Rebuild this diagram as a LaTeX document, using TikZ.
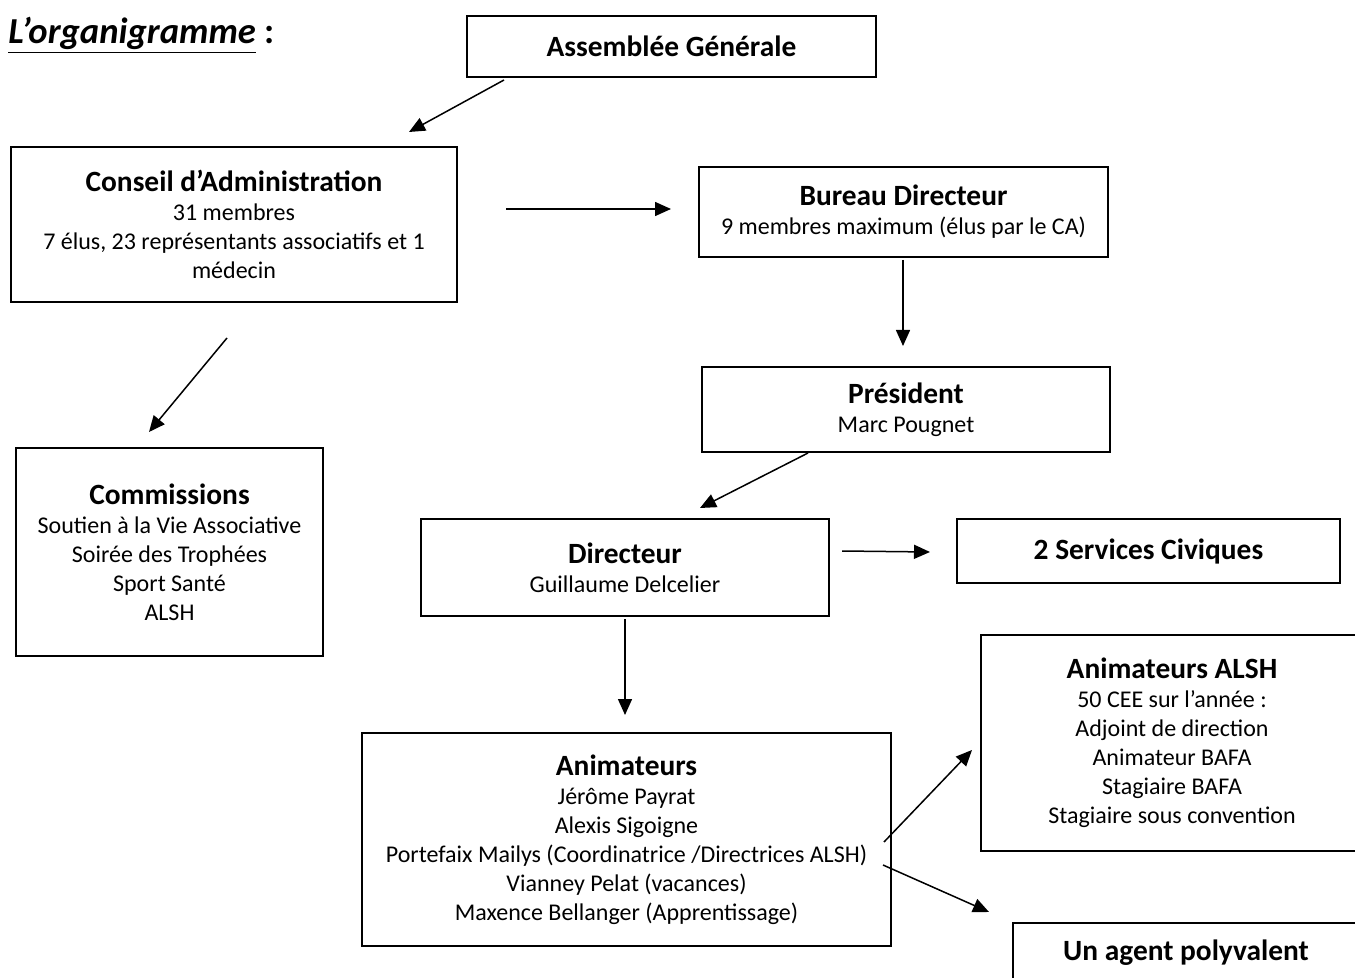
\documentclass[tikz,border=0pt]{standalone}
\usepackage{fontspec}
\setmainfont{Carlito}
\usetikzlibrary{arrows.meta, calc}

\tikzset{
  box/.style={draw, line width=1pt, align=center, inner sep=0pt,
              font=\fontsize{12}{14.5}\selectfont},
  arr/.style={-{Triangle[length=8pt,width=7pt]}, line width=0.75pt},
}
\newcommand{\boxtitle}[1]{{\fontsize{14.7}{17}\selectfont\bfseries #1}}

\begin{document}
\begin{tikzpicture}[x=0.5pt,y=-0.5pt]

\def\px{0.5pt}
\clip (0,0) rectangle (1355,978);

\node[anchor=west, inner sep=0pt, font=\fontsize{18.3}{21}\selectfont\bfseries] (title) at (8,35)
      {\underline{\itshape L’organigramme}~:};

% boxes
\node[box, minimum width=409*\px, minimum height=61*\px] (ag) at (671.5,46.5)
      {\boxtitle{Assemblée Générale}};
\node[box, minimum width=446*\px, minimum height=155*\px] (ca) at (234,224.5)
      {\boxtitle{Conseil d’Administration}\\31 membres\\7 élus, 23 représentants associatifs et 1\\médecin};
\node[box, minimum width=409*\px, minimum height=90*\px] (bd) at (903.5,212)
      {\boxtitle{Bureau Directeur}\\9 membres maximum (élus par le CA)};
\node[box, minimum width=408*\px, minimum height=85*\px] (pres) at (906,409.5)
      {\boxtitle{Président}\\Marc Pougnet};
\node[box, minimum width=307*\px, minimum height=208*\px] (com) at (169.5,552)
      {\boxtitle{Commissions}\\Soutien à la Vie Associative\\Soirée des Trophées\\Sport Santé\\ALSH};
\node[box, minimum width=408*\px, minimum height=97*\px] (dir) at (625,567.5)
      {\boxtitle{Directeur}\\Guillaume Delcelier};
\node[box, minimum width=383*\px, minimum height=64*\px] (serv) at (1148.5,551)
      {\boxtitle{2 Services Civiques}};
\node[box, minimum width=382*\px, minimum height=216*\px] (alsh) at (1172,743)
      {\boxtitle{Animateurs ALSH}\\50 CEE sur l’année :\\Adjoint de direction\\Animateur BAFA\\Stagiaire BAFA\\Stagiaire sous convention};
\node[box, minimum width=529*\px, minimum height=213*\px] (anim) at (626.5,839.5)
      {\boxtitle{Animateurs}\\Jérôme Payrat\\Alexis Sigoigne\\Portefaix Mailys (Coordinatrice /Directrices ALSH)\\Vianney Pelat (vacances)\\Maxence Bellanger (Apprentissage)};
\node[box, minimum width=346*\px, minimum height=60*\px] (agent) at (1186,953)
      {\boxtitle{Un agent polyvalent}};

% arrows
\draw[arr] ([shift={(38,2)}]ag.south west) -- ([shift={(399,-14)}]ca.north west);
\draw[arr] ([shift={(48,63)}]ca.north east) -- ([shift={(-27,43)}]bd.north west);
\draw[arr] ([shift={(-0.5,2)}]bd.south) -- ([shift={(-3,-20)}]pres.north);
\draw[arr] ([shift={(217,35)}]ca.south west) -- ([shift={(134,-15)}]com.north west);
\draw[arr] ([shift={(107,0)}]pres.south west) -- ([shift={(280,-10)}]dir.north west);
\draw[arr] ([shift={(12,33)}]dir.north east) -- ([shift={(-26,1)}]serv.west);
\draw[arr] ([shift={(0,2)}]dir.south) -- ([shift={(-1.5,-17)}]anim.north);
\draw[arr] ([shift={(-8,110)}]anim.north east) -- ([shift={(-8,7)}]alsh.west);
\draw[arr] ([shift={(-9,133)}]anim.north east) -- ([shift={(-23,-10)}]agent.north west);

\end{tikzpicture}
\end{document}
